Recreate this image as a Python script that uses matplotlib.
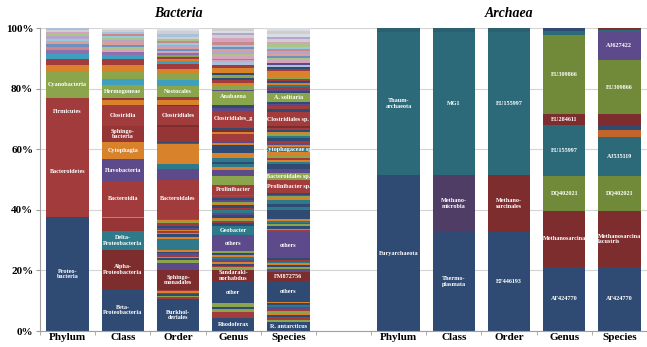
import matplotlib
matplotlib.use('Agg')
import matplotlib.pyplot as plt
import numpy as np

# ---------------- data ----------------
categories = ['Phylum', 'Class', 'Order', 'Genus', 'Species']
group_titles = ['Bacteria', 'Archaea']
ytick_labels = ['0%', '20%', '40%', '60%', '80%', '100%']
ytick_values = [0, 20, 40, 60, 80, 100]

# Bacteria - Phylum
bac_phylum_vals = [37.7, 30.2, 9.1, 8.6, 2.2, 1.9, 1.9, 1.2, 1.0, 1.0, 0.9, 0.8, 0.8, 0.7, 0.7, 0.6, 0.7]
bac_phylum_labels = ['Proteo-\nbacteria', 'Bacteroidetes', 'Firmicutes', 'Cyanobacteria'] + [''] * 13

# Bacteria - Class
bac_class_vals = [13.8, 12.9, 6.3, 4.3, 0.4, 11.9, 7.1, 5.6, 5.5, 6.9, 1.5, 0.6, 4.4, 2.0, 2.4,
                  2.2, 1.9, 1.4, 1.0, 0.9, 0.7, 0.8, 0.8, 0.7, 0.7, 0.7, 0.6, 0.7, 0.8, 0.5]
bac_class_labels = ['Beta-\nProteobacteria', 'Alpha-\nProteobacteria', 'Delta-\nProteobacteria', '', '',
                    'Bacteroidia', 'Flavobacteria', 'Cytophagia', 'Sphingo-\nbacteria', 'Clostridia',
                    '', '', 'Hermogoneae'] + [''] * 17

# Bacteria - Order
bac_order_vals = [10.5, 0.6, 0.5, 0.6, 0.4, 0.5, 0.6, 6.4, 2.2, 1.1,
                  0.6, 0.5, 0.6, 0.5, 0.6, 0.5, 3.8,
                  0.6, 0.8, 0.5, 0.6, 0.5, 0.6, 0.7, 0.7, 0.5, 0.5, 0.6, 0.8,
                  11.9, 3.8, 1.7, 6.3, 0.4, 0.4, 5.0, 0.5,
                  6.3, 0.3, 1.7, 1.1, 3.5, 2.2, 2.2,
                  1.4, 1.4, 1.0, 0.8, 0.7, 0.6, 0.8, 0.7, 0.6, 0.6, 0.7, 0.6, 0.6, 0.7, 0.8, 0.7, 1.0, 1.1]
bac_order_labels = ['Burkhol-\nderiales', '', '', '', '', '', '', 'Sphingo-\nmonadales', '', '',
                    '', '', '', '', '', '', '',
                    '', '', '', '', '', '', '', '', '', '', '', '',
                    'Bacteroidales', '', '', '', '', '', '', '',
                    'Clostridiales', '', '', '', 'Nostocales', '', ''] + [''] * 18

# Bacteria - Genus
bac_genus_vals = [4.3, 1.8, 1.3, 0.6, 1.1, 7.4, 3.6,
                  0.8, 0.6, 0.7, 0.5, 0.6, 0.5, 0.7, 0.5, 0.6, 0.6,
                  5.4, 2.8,
                  1.2, 0.6, 0.5, 0.6, 0.9, 0.7, 0.8, 0.6, 1.0, 0.5, 0.6, 0.7, 0.8, 0.4, 0.5,
                  3.3, 3.0, 2.0,
                  0.8, 1.0, 0.7, 1.3, 1.2, 0.6, 2.4, 0.8, 0.6, 2.4, 0.6, 0.7, 0.6, 0.6,
                  4.9, 1.0, 0.9, 0.9, 3.8, 0.4, 1.5,
                  0.8, 0.8, 0.9, 0.8, 0.8, 1.7, 0.9,
                  0.8, 0.7, 0.6, 0.8, 0.6, 0.9, 0.7, 0.8, 0.6, 0.9, 0.6, 0.8, 0.9, 0.7, 0.8, 0.9]
bac_genus_labels = ['Rhodoferax', '', '', '', '', 'other', 'Sandaraki-\nnorhabdus',
                    '', '', '', '', '', '', '', '', '', '',
                    'others', 'Geobacter',
                    '', '', '', '', '', '', '', '', '', '', '', '', '', '', '',
                    'Prolinibacter', '', '',
                    '', '', '', '', '', '', '', '', '', '', '', '', '', '',
                    'Clostridiales_g', '', '', '', 'Anabaena', '', ''] + [''] * 23

# Bacteria - Species
bac_species_vals = [3.0, 0.8, 0.9, 0.7, 0.5, 0.7, 0.8, 0.6, 0.6, 0.6, 0.5,
                    6.8, 3.1,
                    0.9, 0.6, 0.7, 0.6, 0.6, 0.5, 0.5,
                    8.7,
                    0.6, 0.6, 0.9, 0.5, 0.6, 0.6, 0.6, 2.8, 1.2, 0.8, 1.5, 0.6, 0.6, 0.5, 0.6,
                    4.3, 2.2,
                    1.5, 1.5, 0.8, 0.6, 0.7, 0.6, 1.2, 1.7,
                    0.7, 0.6, 0.7, 1.0, 0.7, 0.6, 0.6, 0.8, 0.7, 0.7,
                    4.4, 1.2, 0.8, 0.8, 0.8, 2.7,
                    0.9, 0.6, 0.6, 0.7, 0.6, 0.7, 0.6, 0.8, 1.9, 0.7, 0.6,
                    0.8, 0.7, 0.8, 0.6, 0.7, 0.8, 0.8, 0.9, 0.7, 0.7, 0.8, 1.0, 0.7, 0.8, 1.0, 1.1]
bac_species_labels = ['R. antarcticus', '', '', '', '', '', '', '', '', '', '',
                      'others', 'FM872756',
                      '', '', '', '', '', '', '',
                      'others',
                      '', '', '', '', '', '', '', '', '', '', '', '', '', '', '',
                      'Prolinibacter sp.', 'Bacteroidales sp.',
                      '', '', '', '', '', '', '', 'Cytophagaceae sp.',
                      '', '', '', '', '', '', '', '', '', '',
                      'Clostridiales sp.', '', '', '', '', 'A. solitaria'] + [''] * 27

# Archaea
arc_phylum_vals = [51.5, 47.3, 1.2]
arc_phylum_labels = ['Euryarchaeota', 'Thaum-\narchaeota', '']
arc_class_vals = [32.8, 18.7, 47.3, 1.2]
arc_class_labels = ['Thermo-\nplasmata', 'Methano-\nmicrobia', 'MG1', '']
arc_order_vals = [32.8, 18.7, 47.3, 1.2]
arc_order_labels = ['EF446193', 'Methano-\nsarcinales', 'EU155997', '']
arc_genus_vals = [21.2, 18.5, 11.6, 16.6, 3.7, 26.1, 1.3, 1.0]
arc_genus_labels = ['AF424770', 'Methanosarcina', 'DQ402021', 'EU155997', 'EU284611', 'EU309866', '', '']
arc_species_vals = [21.2, 18.5, 11.6, 12.8, 2.2, 1.6, 3.7, 17.8, 9.4, 0.6, 0.4, 0.2]
arc_species_labels = ['AF424770', 'Methanosarcina\nlacustris', 'DQ402021', 'AJ535119', '', '', '',
                      'EU309866', 'AJ627422', '', '', '']

# ---------------- styles ----------------
PALETTE = {
    'B': '#2F4B73', 'R': '#A23B3B', 'Q': '#963535', 'D': '#7D2D2E', 'G': '#8AA54B',
    'P': '#5D4A8A', 'T': '#2E7A8A', 'O': '#D9822C', 'L': '#3F9FBE',
    'm': '#8E6FAE', 'r': '#C9888C', 'b': '#6F8FBF', 's': '#D9A09A', 'c': '#94CCDD',
    'v': '#B3A5CB', 'g': '#A9C58A', 'p': '#D6A3BC', 'y': '#CFCFCF', 'a': '#A9C1DD',
    'w': '#DADDE3',
    'U': '#2C6A79', 'V': '#2A6070', 'X': '#4F3D66', 'H': '#718A39', 'K': '#C0662A',
}
bac_phylum_cols = 'BRRGORLmrbscvgpya'
bac_class_cols = 'BDTQORPOQROQGLGORLmpgbsvgcrayw'
bac_order_cols = ('BRGBPOR' + 'DPG' + 'BORPBOT' + 'OBGROPBRGOTR' + 'RPTORBQD' + 'RDORGLG'
                  + 'ORLORGmpbsvcrgyayw')
bac_genus_cols = ('BRGBGBD' + 'GRBOPRTOBG' + 'PT' + 'BRGOBPTRBOGPBRT' + 'RGP'
                  + 'OTBTOGBOPRODBR' + 'RPBGGPG' + 'ORBGBOR' + 'apbpgvsbarg' + 'pyvwy')
bac_species_cols = ('BGRBOGRPTBO' + 'BD' + 'PGBOTRB' + 'P' + 'ROBGPTOBTBTOGRB' + 'RG'
                    + 'PBTORGOT' + 'OPRBTGOBRD' + 'RBRPBG' + 'BPRTOBRGORB'
                    + 'aPpgbsvrcgpyvwyw')
arc_phylum_cols = 'BUV'
arc_class_cols = 'BXUV'
arc_order_cols = 'BDUV'
arc_genus_cols = 'BDHUDHUB'
arc_species_cols = 'BDHUKBDHPUBD'

bars = [
    (0, bac_phylum_vals, bac_phylum_cols, bac_phylum_labels),
    (1, bac_class_vals, bac_class_cols, bac_class_labels),
    (2, bac_order_vals, bac_order_cols, bac_order_labels),
    (3, bac_genus_vals, bac_genus_cols, bac_genus_labels),
    (4, bac_species_vals, bac_species_cols, bac_species_labels),
    (6, arc_phylum_vals, arc_phylum_cols, arc_phylum_labels),
    (7, arc_class_vals, arc_class_cols, arc_class_labels),
    (8, arc_order_vals, arc_order_cols, arc_order_labels),
    (9, arc_genus_vals, arc_genus_cols, arc_genus_labels),
    (10, arc_species_vals, arc_species_cols, arc_species_labels),
]

SERIF = ['Liberation Serif', 'DejaVu Serif']

fig = plt.figure(figsize=(6.47, 3.47), dpi=100)
ax = fig.add_axes([0.062, 0.046, 0.938, 0.873])

for x, vals, cols, labels in bars:
    v = np.array(vals, dtype=float)
    v = v / v.sum() * 100.0
    bottoms = np.concatenate([[0], np.cumsum(v)[:-1]])
    colors = [PALETTE[c] for c in cols[:len(v)]]
    ax.bar(np.full(len(v), x), v, bottom=bottoms, width=0.77, color=colors,
           edgecolor='none', zorder=2)
    for val, b, lab in zip(v, bottoms, labels):
        if lab:
            ax.text(x, b + val / 2, lab, ha='center', va='center', color='white',
                    fontsize=4.4, fontweight='bold', family=SERIF, zorder=3,
                    linespacing=1.1, multialignment='left' if 'lacustris' in lab else 'center')

ax.set_xlim(-0.5, 10.38)
ax.set_ylim(0, 100)
ax.set_yticks(ytick_values)
ax.set_yticklabels(ytick_labels, fontsize=8, fontweight='bold', family=SERIF)
xpos = [0, 1, 2, 3, 4, 6, 7, 8, 9, 10]
ax.set_xticks(xpos)
ax.set_xticklabels(categories * 2, fontsize=8, fontweight='bold', family=SERIF)
ax.tick_params(axis='x', length=0, pad=1.5)
ax.set_xticks(np.arange(-0.5, 10.6, 1.0), minor=True)
ax.tick_params(axis='x', which='minor', length=3, color='#A0A0A0', direction='out')
ax.tick_params(axis='y', length=3, color='#A0A0A0', pad=2)
ax.yaxis.grid(True, color='#D4D4D4', linewidth=0.8, zorder=0)
ax.set_axisbelow(True)
for s in ['top', 'right']:
    ax.spines[s].set_visible(False)
for s in ['left', 'bottom']:
    ax.spines[s].set_color('#A0A0A0')
    ax.spines[s].set_linewidth(0.8)

ax.text(2, 1.048, group_titles[0], transform=ax.get_xaxis_transform(), ha='center', va='center',
        fontsize=10, fontweight='bold', fontstyle='italic', family=SERIF)
ax.text(8, 1.048, group_titles[1], transform=ax.get_xaxis_transform(), ha='center', va='center',
        fontsize=10, fontweight='bold', fontstyle='italic', family=SERIF)

fig.savefig('out.png', dpi=100)
